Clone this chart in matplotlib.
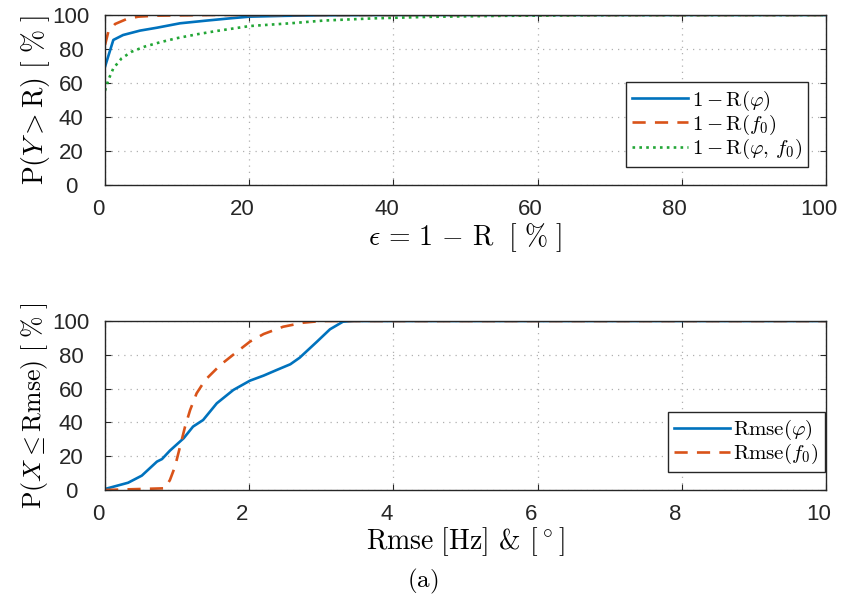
import matplotlib.pyplot as plt
import matplotlib.transforms as mtransforms
import numpy as np

plt.rcParams['mathtext.fontset'] = 'cm'
plt.rcParams['font.family'] = ['Liberation Sans', 'DejaVu Sans']

# top panel: P(Y > R) versus epsilon
eps_phi = [0, 1.15, 2.5, 4.85, 7.2, 10.4, 14.1, 17.3, 20, 25, 30, 40, 100]
p_phi = [69.6, 85.3, 88.2, 90.8, 92.5, 95.1, 96.7, 98.0, 99.0, 99.5, 99.8, 100, 100]
eps_f0 = [0, 0.46, 1.4, 3.0, 4.6, 7.2, 15, 100]
p_f0 = [82.4, 90.2, 94.7, 97.6, 99.0, 99.6, 100, 100]
eps_both = [0, 0.46, 1.15, 2.3, 3.7, 5.5, 7.6, 9.9, 12.7, 15.5, 20.1, 25.7, 30.3,
            37.2, 45, 55, 70, 100]
p_both = [55.5, 61.8, 68.6, 74.5, 78.4, 81.4, 83.9, 86.3, 88.6, 90.6, 93.5, 95.1,
          96.7, 98.0, 98.9, 99.5, 99.9, 100]

# bottom panel: P(X <= Rmse)
rmse_phi = [0, 0.32, 0.51, 0.72, 0.79, 0.9, 1.09, 1.22, 1.36, 1.55, 1.78, 2.01, 2.2,
            2.38, 2.57, 2.7, 2.94, 3.12, 3.3, 3.45, 10]
cdf_phi = [0.6, 4.3, 8.5, 16.8, 18.3, 23.3, 30.6, 37.5, 41.4, 51.3, 59.2, 64.7, 67.7,
           71.0, 74.4, 78.3, 87.8, 95.1, 99.6, 100, 100]
rmse_f0 = [0, 0.83, 0.9, 0.97, 1.04, 1.11, 1.18, 1.27, 1.39, 1.6, 1.83, 2.01, 2.2,
           2.47, 2.75, 3.0, 10]
cdf_f0 = [0, 1, 5.9, 13.8, 25.6, 37.5, 47.3, 57.2, 65.1, 74.0, 81.8, 87.8, 92.3,
          96.6, 99.0, 100, 100]

blue = '#0072BD'
orange = '#D95319'
green = '#22A636'

fig = plt.figure(figsize=(8.45, 6.01), dpi=100)
ax1 = fig.add_axes([0.1243, 0.6922, 0.8533, 0.2829])
ax2 = fig.add_axes([0.1243, 0.1847, 0.8533, 0.2812])

ax1.plot(eps_phi, p_phi, color=blue, lw=1.9, label=r'$1-\mathrm{R}(\varphi)$')
ax1.plot(eps_f0, p_f0, color=orange, lw=1.9, ls=(0, (5, 3.5)),
         label=r'$1-\mathrm{R}(f_0)$')
ax1.plot(eps_both, p_both, color=green, lw=1.9, ls=(0, (1, 1.6)),
         label=r'$1-\mathrm{R}(\varphi,\,f_0)$')
ax1.set_xlim(0, 100)
ax1.set_ylim(0, 100)
ax1.set_xticks(np.arange(0, 101, 20))
ax1.set_yticks(np.arange(0, 101, 20))
ax1.set_xlabel(r'$\epsilon\,=\,1\,-\,\mathrm{R}\ \ [\ \%\ ]$', fontsize=20, labelpad=1)
ax1.set_ylabel(r'$\mathrm{P}(Y>\mathrm{R})\ [\ \%\ ]$', fontsize=20, labelpad=0)

ax2.plot(rmse_phi, cdf_phi, color=blue, lw=1.9, label=r'$\mathrm{Rmse}(\varphi)$')
ax2.plot(rmse_f0, cdf_f0, color=orange, lw=1.9, ls=(0, (5, 3.5)),
         label=r'$\mathrm{Rmse}(f_0)$')
ax2.set_xlim(0, 10)
ax2.set_ylim(0, 100)
ax2.set_xticks(np.arange(0, 11, 2))
ax2.set_yticks(np.arange(0, 101, 20))
ax2.set_xlabel(r'$\mathrm{Rmse}\ [\mathrm{Hz}]$ & $[\,^{\circ}\,]$', fontsize=20,
               labelpad=0, family='cmr10')
ax2.set_ylabel(r'$\mathrm{P}(X\leq\mathrm{Rmse})\ [\ \%\ ]$', fontsize=18.5, labelpad=2)

shift = mtransforms.ScaledTranslation(-7 / 100, 0, fig.dpi_scale_trans)
for ax in (ax1, ax2):
    ax.grid(True, ls=(0, (1, 4)), color='#b0b0b0', lw=0.9)
    ax.tick_params(direction='in', length=4, width=0.8, top=True, right=True,
                   labelsize=16, colors='#262626')
    ax.tick_params(axis='y', pad=24.5)
    ax.tick_params(axis='x', pad=10)
    for lab in ax.get_yticklabels():
        lab.set_horizontalalignment('center')
    for lab in ax.get_xticklabels():
        lab.set_transform(lab.get_transform() + shift)
    for sp in ax.spines.values():
        sp.set_color('#262626')
        sp.set_linewidth(1.0)

leg1 = ax1.legend(loc='lower right', bbox_to_anchor=(0.975, 0.105), fontsize=15,
                  frameon=True, fancybox=False, edgecolor='#262626', framealpha=1,
                  handlelength=2.7, handletextpad=0.15, labelspacing=0.0,
                  borderpad=0.3, borderaxespad=0)
leg1.get_frame().set_linewidth(1.0)
leg2 = ax2.legend(loc='lower right', bbox_to_anchor=(0.998, 0.105), fontsize=15,
                  frameon=True, fancybox=False, edgecolor='#262626', framealpha=1,
                  handlelength=2.7, handletextpad=0.15, labelspacing=0.0,
                  borderpad=0.3, borderaxespad=0)
leg2.get_frame().set_linewidth(1.0)

fig.text(0.5, 0.032, r'$\mathrm{(a)}$', ha='center', va='center', fontsize=18)

fig.savefig('out.png', dpi=100)
